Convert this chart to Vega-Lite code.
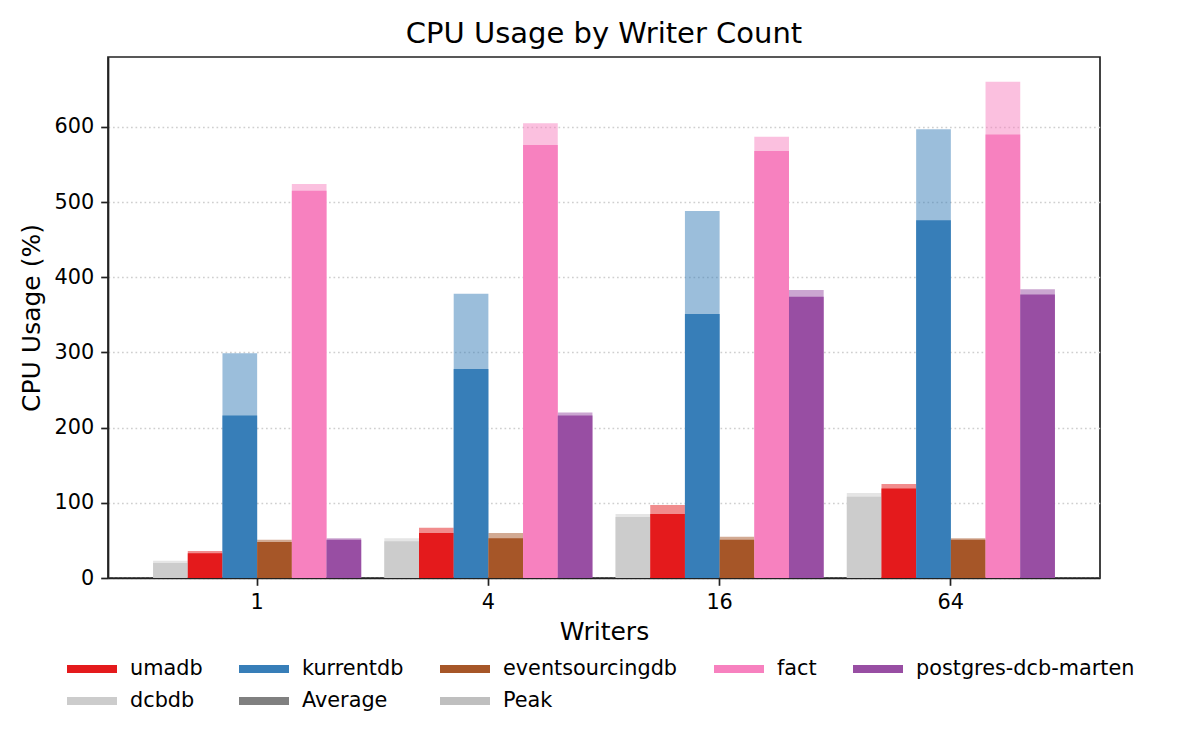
{
  "$schema": "https://vega.github.io/schema/vega-lite/v6.json",
  "autosize": {"type": "none"},
  "padding": {"left": 108, "top": 57, "right": 100, "bottom": 172},
  "width": 992,
  "height": 521,
  "background": "white",
  "title": {
    "text": "CPU Usage by Writer Count",
    "fontSize": 29,
    "fontWeight": "normal",
    "font": "DejaVu Sans",
    "color": "black",
    "anchor": "middle",
    "offset": 8
  },
  "config": {
    "font": "DejaVu Sans",
    "view": {"stroke": "#222", "strokeWidth": 1.7},
    "axis": {
      "labelFont": "DejaVu Sans",
      "titleFont": "DejaVu Sans",
      "labelFontSize": 20.8,
      "titleFontSize": 25,
      "titleFontWeight": "normal",
      "labelColor": "black",
      "titleColor": "black",
      "domainColor": "#222",
      "domainWidth": 1.7,
      "tickColor": "#222",
      "tickWidth": 1.7,
      "tickSize": 7.3,
      "labelPadding": 7
    },
    "legend": {
      "labelFont": "DejaVu Sans",
      "labelFontSize": 20.8,
      "labelColor": "black",
      "labelLimit": 500
    }
  },
  "data": {
    "values": [
      {"writers": "1", "db": "dcbdb", "avg": 20, "peak": 23},
      {"writers": "1", "db": "umadb", "avg": 33, "peak": 36},
      {"writers": "1", "db": "kurrentdb", "avg": 216, "peak": 299},
      {"writers": "1", "db": "eventsourcingdb", "avg": 48, "peak": 51},
      {"writers": "1", "db": "fact", "avg": 515, "peak": 524},
      {"writers": "1", "db": "postgres-dcb-marten", "avg": 51, "peak": 53},
      {"writers": "4", "db": "dcbdb", "avg": 49, "peak": 53},
      {"writers": "4", "db": "umadb", "avg": 60, "peak": 67},
      {"writers": "4", "db": "kurrentdb", "avg": 278, "peak": 378},
      {"writers": "4", "db": "eventsourcingdb", "avg": 53, "peak": 60},
      {"writers": "4", "db": "fact", "avg": 576, "peak": 605},
      {"writers": "4", "db": "postgres-dcb-marten", "avg": 216, "peak": 220},
      {"writers": "16", "db": "dcbdb", "avg": 81, "peak": 85},
      {"writers": "16", "db": "umadb", "avg": 85, "peak": 97},
      {"writers": "16", "db": "kurrentdb", "avg": 351, "peak": 488},
      {"writers": "16", "db": "eventsourcingdb", "avg": 51, "peak": 55},
      {"writers": "16", "db": "fact", "avg": 568, "peak": 587},
      {"writers": "16", "db": "postgres-dcb-marten", "avg": 374, "peak": 383},
      {"writers": "64", "db": "dcbdb", "avg": 108, "peak": 113},
      {"writers": "64", "db": "umadb", "avg": 119, "peak": 125},
      {"writers": "64", "db": "kurrentdb", "avg": 476, "peak": 597},
      {"writers": "64", "db": "eventsourcingdb", "avg": 51, "peak": 53},
      {"writers": "64", "db": "fact", "avg": 590, "peak": 660},
      {"writers": "64", "db": "postgres-dcb-marten", "avg": 377, "peak": 384}
    ]
  },
  "encoding": {
    "x": {
      "field": "writers",
      "type": "ordinal",
      "sort": ["1", "4", "16", "64"],
      "scale": {"paddingInner": 0.1, "paddingOuter": 0.195},
      "axis": {"title": "Writers", "labelAngle": 0, "titlePadding": 7}
    },
    "xOffset": {
      "field": "db",
      "type": "nominal",
      "sort": ["dcbdb", "umadb", "kurrentdb", "eventsourcingdb", "fact", "postgres-dcb-marten"],
      "scale": {"paddingInner": 0, "paddingOuter": 0}
    },
    "color": {
      "field": "db",
      "type": "nominal",
      "scale": {
        "domain": ["umadb", "kurrentdb", "eventsourcingdb", "fact", "postgres-dcb-marten", "dcbdb", "Average", "Peak"],
        "range": ["#e41a1c", "#377eb8", "#a65628", "#f781bf", "#984ea3", "#cccccc", "#808080", "#bfbfbf"]
      },
      "legend": {
        "title": null,
        "orient": "none",
        "legendX": -41,
        "legendY": 602,
        "direction": "horizontal",
        "columns": 5,
        "columnPadding": 36,
        "rowPadding": 11,
        "clipHeight": 20,
        "symbolType": "M-1,-0.16H1V0.16H-1Z",
        "symbolSize": 2500,
        "symbolStrokeWidth": 0,
        "symbolOpacity": 1,
        "labelOffset": 13,
        "padding": 0
      }
    }
  },
  "layer": [
    {
      "mark": {"type": "bar", "opacity": 0.5},
      "encoding": {
        "y": {
          "field": "peak",
          "type": "quantitative",
          "scale": {"domain": [0, 693], "nice": false},
          "axis": {
            "title": "CPU Usage (%)",
            "values": [0, 100, 200, 300, 400, 500, 600],
            "grid": true,
            "gridColor": "#cfcfcf",
            "gridDash": [1.7, 2.8],
            "gridWidth": 1.3,
            "titlePadding": 10
          }
        }
      }
    },
    {
      "mark": {"type": "bar"},
      "encoding": {
        "y": {"field": "avg", "type": "quantitative"}
      }
    }
  ]
}
